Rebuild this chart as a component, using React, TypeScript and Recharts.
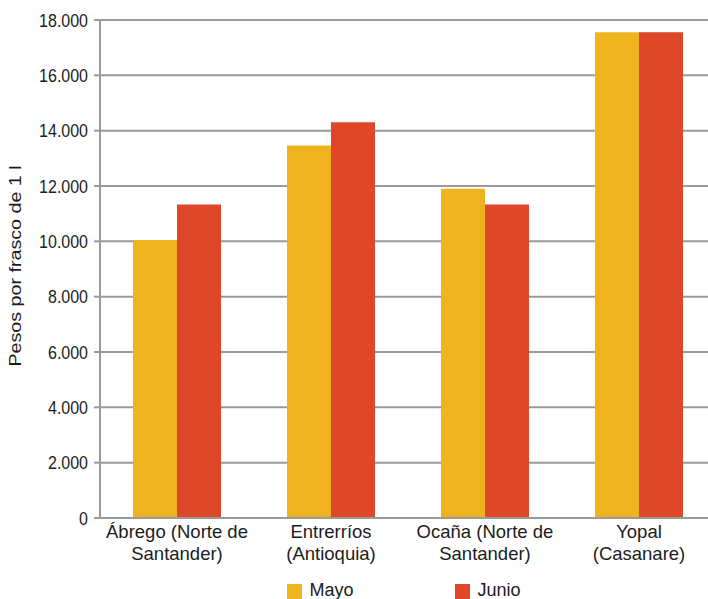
import React from "react";
import { BarChart, Bar, XAxis, YAxis, CartesianGrid, Legend } from "recharts";

const categories = [
  "Ábrego (Norte de\nSantander)",
  "Entrerríos\n(Antioquia)",
  "Ocaña (Norte de\nSantander)",
  "Yopal\n(Casanare)",
];
const mayo = [10050, 13460, 11900, 17560];
const junio = [11330, 14300, 11330, 17560];
const yTicks = [0, 2000, 4000, 6000, 8000, 10000, 12000, 14000, 16000, 18000];
const seriesNames = { mayo: "Mayo", junio: "Junio" };
const yTitle = "Pesos por frasco de 1 l";

const data = categories.map((c, i) => ({ name: c, mayo: mayo[i], junio: junio[i] }));

const COLORS = { mayo: "#EFB320", junio: "#DE4728" };
const FONT = "'Liberation Sans', Arial, sans-serif";
const TEXT = "#1c1c1c";
const GRID = "#9a9a9a";

const fmt = (v: number) => String(v).replace(/\B(?=(\d{3})+(?!\d))/g, ".");

const XTick = (props: any) => {
  const { x, y, payload } = props;
  const lines = String(payload.value).split("\n");
  return (
    <text x={x} y={y} textAnchor="middle" fontSize={18.5} fontFamily={FONT} fill={TEXT}>
      {lines.map((l, i) => (
        <tspan key={i} x={x} dy={i === 0 ? 19.5 : 22}>
          {l}
        </tspan>
      ))}
    </text>
  );
};

const YTick = (props: any) => {
  const { x, y, payload } = props;
  return (
    <text
      transform={`translate(${x},${y}) scale(1,1.2)`}
      x={0}
      y={0}
      textAnchor="end"
      dominantBaseline="central"
      fontSize={16}
      fontFamily={FONT}
      fill={TEXT}
    >
      {fmt(payload.value)}
    </text>
  );
};

const LegendContent = () => (
  <svg width={720} height={24} style={{ display: "block" }}>
    {[
      { key: "mayo", left: 287 },
      { key: "junio", left: 455 },
    ].map((it) => (
      <g key={it.key}>
        <rect x={it.left} y={6} width={15} height={15} fill={(COLORS as any)[it.key]} />
        <text x={it.left + 22.5} y={18} fontSize={18} fontFamily={FONT} fill={TEXT}>
          {(seriesNames as any)[it.key]}
        </text>
      </g>
    ))}
  </svg>
);

export default function App() {
  return (
    <div style={{ position: "absolute", left: 0, top: 0, width: 708, height: 599, overflow: "hidden", background: "#fff" }}>
      <BarChart
        width={720}
        height={602}
        data={data}
        margin={{ top: 20, right: 4, left: 0, bottom: 0 }}
        barCategoryGap={33}
        barGap={0}
      >
        <CartesianGrid vertical={false} stroke={GRID} strokeWidth={2} />
        <XAxis
          dataKey="name"
          height={60}
          tick={<XTick />}
          tickLine={false}
          tickSize={0}
          tickMargin={0}
          interval={0}
          axisLine={{ stroke: GRID, strokeWidth: 2 }}
        />
        <YAxis
          width={100}
          domain={[0, 18000]}
          ticks={yTicks}
          tickSize={6}
          tickMargin={6}
          tickLine={{ stroke: GRID, strokeWidth: 2 }}
          axisLine={{ stroke: GRID, strokeWidth: 2 }}
          tick={<YTick />}
          label={{
            content: () => (
              <text
                transform="translate(15.5,266) rotate(-90) scale(1.23,1)"
                x={0}
                y={0}
                textAnchor="middle"
                dominantBaseline="central"
                fontSize={16}
                fontFamily={FONT}
                fill={TEXT}
              >
                {yTitle}
              </text>
            ),
          }}
        />
        <Legend verticalAlign="bottom" content={<LegendContent />} wrapperStyle={{ height: 24, left: 0, width: 720 }} />
        <Bar dataKey="mayo" name={seriesNames.mayo} fill={COLORS.mayo} isAnimationActive={false} />
        <Bar dataKey="junio" name={seriesNames.junio} fill={COLORS.junio} isAnimationActive={false} />
      </BarChart>
    </div>
  );
}
